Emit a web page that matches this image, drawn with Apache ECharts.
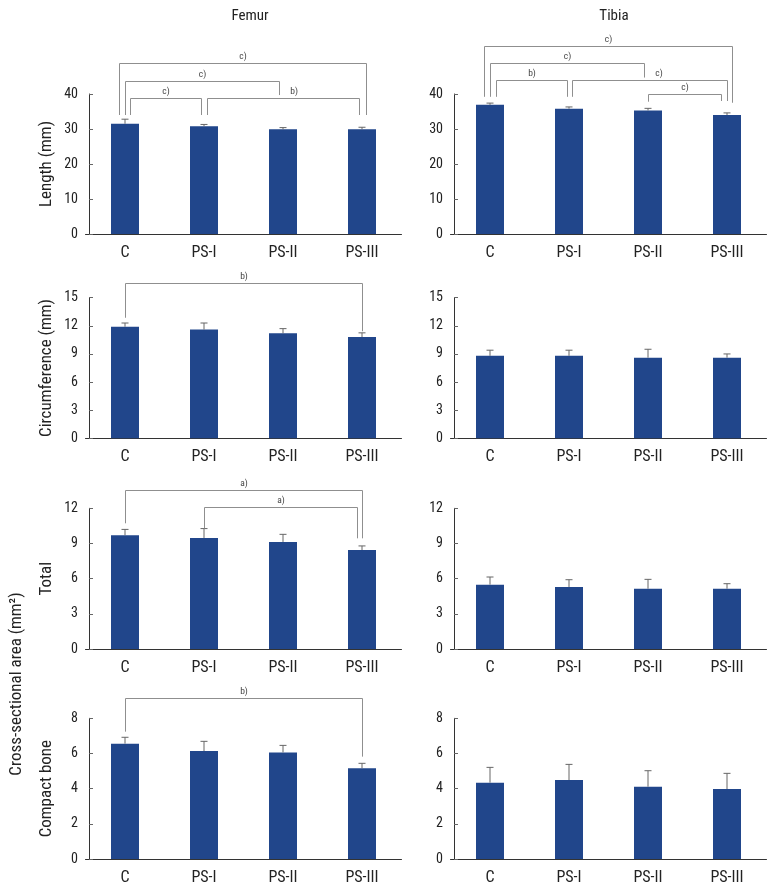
<!DOCTYPE html>
<html><head><meta charset="utf-8">
<script src="https://cdn.jsdelivr.net/npm/echarts@6/dist/echarts.min.js"></script>
<style>html,body{margin:0;padding:0;background:#fff}#c{width:772px;height:892px}</style>
</head><body><div id="c"></div>
<script>
// ---------- data ----------
const categories = ['C', 'PS-I', 'PS-II', 'PS-III'];
const columnTitles = ['Femur', 'Tibia'];
const rowTitles = ['Length (mm)', 'Circumference (mm)', 'Total', 'Compact bone'];
const groupTitle = 'Cross-sectional area (mm\u00B2)';
const yMax = [40, 15, 12, 8];
const yInterval = [10, 3, 3, 2];

const femurLength = [31.5, 30.8, 29.9, 29.9];
const femurLengthErr = [1.3, 0.5, 0.5, 0.6];
const tibiaLength = [36.9, 35.8, 35.3, 34.0];
const tibiaLengthErr = [0.5, 0.5, 0.6, 0.6];

const femurCirc = [11.9, 11.6, 11.2, 10.8];
const femurCircErr = [0.4, 0.7, 0.5, 0.45];
const tibiaCirc = [8.8, 8.8, 8.6, 8.6];
const tibiaCircErr = [0.6, 0.6, 0.9, 0.4];

const femurTotal = [9.7, 9.47, 9.13, 8.44];
const femurTotalErr = [0.5, 0.8, 0.65, 0.35];
const tibiaTotal = [5.49, 5.29, 5.14, 5.14];
const tibiaTotalErr = [0.65, 0.62, 0.8, 0.43];

const femurCompact = [6.56, 6.14, 6.06, 5.16];
const femurCompactErr = [0.36, 0.55, 0.4, 0.28];
const tibiaCompact = [4.34, 4.49, 4.11, 3.98];
const tibiaCompactErr = [0.87, 0.89, 0.91, 0.89];

// significance brackets: [fromPos, toPos, level, dropFromEnd, dropToEnd, label, labelPos]
const femurLengthBrackets = [
  [-0.076, 3.047, 48.8, 34, 34, 'c)'],
  [0.0, 1.953, 43.8, 34, 39.7, 'c)'],
  [0.063, 0.958, 39.0, 34, 34, 'c)'],
  [1.042, 2.962, 39.0, 34, 34, 'b)', 2.14]
];
const tibiaLengthBrackets = [
  [-0.076, 3.067, 53.7, 39.2, 37.5, 'c)'],
  [0.0, 1.953, 48.8, 39.2, 44.7, 'c)'],
  [0.072, 0.97, 44.0, 39.2, 39.2, 'b)'],
  [1.042, 3.0, 44.0, 39.2, 38.0, 'c)', 2.14],
  [2.0, 2.92, 40.0, 37.8, 38.0, 'c)']
];
const femurCircBrackets = [
  [0.0, 3.0, 16.53, 12.86, 11.42, 'b)']
];
const tibiaCircBrackets = [];
const femurTotalBrackets = [
  [0.0, 3.0, 13.56, 10.72, 9.44, 'a)'],
  [1.0, 2.94, 12.14, 10.29, 9.44, 'a)']
];
const tibiaTotalBrackets = [];
const femurCompactBrackets = [
  [0.0, 3.0, 9.17, 7.24, 5.82, 'b)']
];
const tibiaCompactBrackets = [];

const panels = [
  [femurLength, femurLengthErr, femurLengthBrackets], [tibiaLength, tibiaLengthErr, tibiaLengthBrackets],
  [femurCirc, femurCircErr, femurCircBrackets], [tibiaCirc, tibiaCircErr, tibiaCircBrackets],
  [femurTotal, femurTotalErr, femurTotalBrackets], [tibiaTotal, tibiaTotalErr, tibiaTotalBrackets],
  [femurCompact, femurCompactErr, femurCompactBrackets], [tibiaCompact, tibiaCompactErr, tibiaCompactBrackets]
];

// ---------- layout / style ----------
const FONT = '"Roboto Condensed", "Liberation Sans Narrow", Roboto, sans-serif';
const BAR = '#21468b';
const gridTops = [94, 297.7, 508.3, 718.3];
const gridHeights = [140, 140.6, 140.7, 140.7];
const gridLefts = [85.5, 450.5];
const gridWidth = 316;

const grid = [], xAxis = [], yAxis = [], series = [];
panels.forEach((p, k) => {
  const r = Math.floor(k / 2), c = k % 2;
  const [vals, errs, brackets] = p;
  grid.push({ left: gridLefts[c], top: gridTops[r], width: gridWidth, height: gridHeights[r], containLabel: false });
  xAxis.push({
    type: 'category', gridIndex: k, data: categories,
    axisLine: { show: true, lineStyle: { color: '#333', width: 1 } },
    axisTick: { show: false },
    axisLabel: { fontFamily: FONT, fontSize: 16, color: '#222', margin: 11 }
  });
  yAxis.push({
    type: 'value', gridIndex: k, min: 0, max: yMax[r], interval: yInterval[r],
    offset: -3.5,
    axisLine: { show: true, lineStyle: { color: '#333', width: 1 } },
    axisTick: { show: true, inside: true, length: 4, lineStyle: { color: '#666' } },
    axisLabel: { fontFamily: FONT, fontSize: 14, color: '#222', margin: 11 },
    splitLine: { show: false },
    name: c === 0 ? rowTitles[r] : '',
    nameLocation: 'middle', nameGap: 34, nameRotate: 90,
    nameTextStyle: { fontFamily: FONT, fontSize: 17, color: '#222' }
  });
  series.push({
    type: 'bar', xAxisIndex: k, yAxisIndex: k, data: vals, barWidth: 28,
    itemStyle: { color: BAR }, silent: true, z: 2
  });
  series.push({
    type: 'custom', xAxisIndex: k, yAxisIndex: k, z: 3, silent: true,
    data: vals.map((v, i) => [i, v, v + errs[i]]),
    renderItem: function (params, api) {
      const a = api.coord([api.value(0), api.value(1)]);
      const b = api.coord([api.value(0), api.value(2)]);
      return {
        type: 'group', children: [
          { type: 'line', shape: { x1: a[0], y1: a[1], x2: b[0], y2: b[1] }, style: { stroke: '#666', lineWidth: 1 } },
          { type: 'line', shape: { x1: b[0] - 3.5, y1: b[1], x2: b[0] + 3.5, y2: b[1] }, style: { stroke: '#666', lineWidth: 1 } }
        ]
      };
    }
  });
  if (brackets.length) {
    series.push({
      type: 'custom', xAxisIndex: k, yAxisIndex: k, z: 4, silent: true, clip: false,
      data: brackets.map((bk) => [0, bk[2]]),
      renderItem: function (params, api) {
        const bk = brackets[params.dataIndex];
        const origin = api.coord([0, 0]);
        const band = api.size([1, 0])[0];
        const xAt = (pos) => origin[0] + pos * band;
        const yAt = (v) => api.coord([0, v])[1];
        const x1 = Math.round(xAt(bk[0])) + 0.5, x2 = Math.round(xAt(bk[1])) + 0.5;
        const yl = Math.round(yAt(bk[2])) + 0.5;
        const lx = bk[6] !== undefined ? xAt(bk[6]) : (x1 + x2) / 2;
        const st = { stroke: '#8f8f8f', lineWidth: 1, fill: null };
        return {
          type: 'group', children: [
            { type: 'polyline', shape: { points: [[x1, yAt(bk[3])], [x1, yl], [x2, yl], [x2, yAt(bk[4])]] }, style: st },
            { type: 'text', x: lx, y: yl - 7, style: { text: bk[5], fontFamily: FONT, fontSize: 9.5, fill: '#444', align: 'center', verticalAlign: 'middle' } }
          ]
        };
      }
    });
  }
});

const chart = echarts.init(document.getElementById('c'), null, { renderer: 'canvas' });
chart.setOption({
  animation: false,
  backgroundColor: '#fff',
  title: [
    { text: columnTitles[0], left: 245, top: 4, textAlign: 'center', textStyle: { fontFamily: FONT, fontSize: 15, fontWeight: 'normal', color: '#222' } },
    { text: columnTitles[1], left: 609, top: 4, textAlign: 'center', textStyle: { fontFamily: FONT, fontSize: 15, fontWeight: 'normal', color: '#222' } }
  ],
  graphic: [
    { type: 'text', x: 17, y: 684, rotation: Math.PI / 2,
      style: { text: groupTitle, fontFamily: FONT, fontSize: 17, fill: '#222', align: 'center', verticalAlign: 'middle' } }
  ],
  grid, xAxis, yAxis, series
});
</script>
</body></html>
